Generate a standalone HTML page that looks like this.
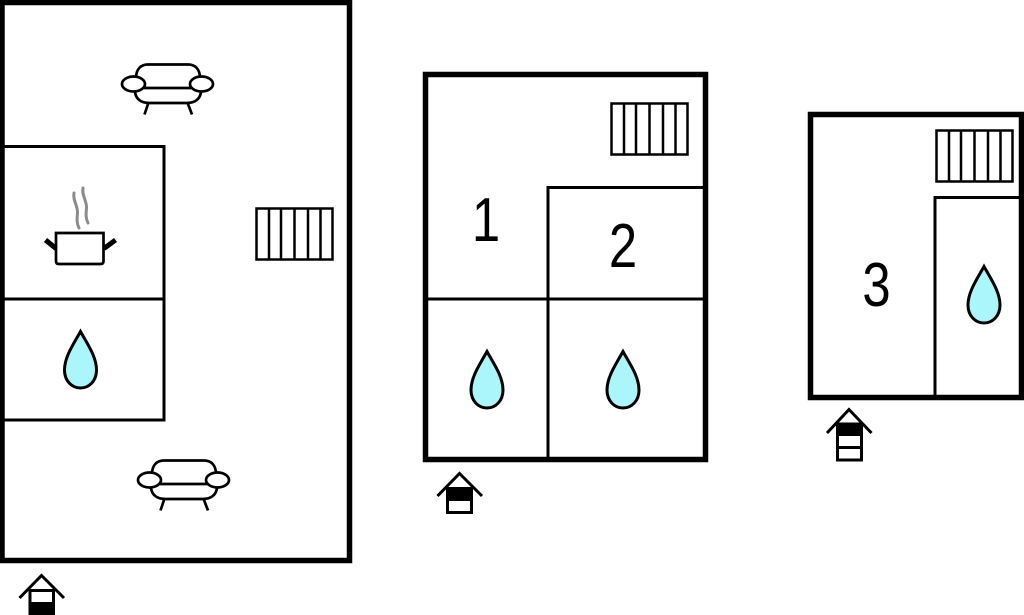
<!DOCTYPE html>
<html>
<head>
<meta charset="utf-8">
<style>
html,body{margin:0;padding:0;background:#fff;width:1024px;height:615px;overflow:hidden}
svg{display:block}
text{font-family:"Liberation Sans",sans-serif;font-size:62px;fill:#000;text-anchor:middle}
</style>
</head>
<body>
<svg width="1024" height="615" viewBox="0 0 1024 615" xmlns="http://www.w3.org/2000/svg" xmlns:xlink="http://www.w3.org/1999/xlink">
<defs>
  <g id="rad" fill="none" stroke="#000" stroke-width="2.500">
    <rect x="0.500" y="0.500" width="76" height="51" fill="#fff"/>
    <path d="M13 1V52M25 1V52M38.500 1V52M52 1V52M64.500 1V52"/>
  </g>
  <path id="drop" d="M80.500 331.500C73 345 64.500 357 64.500 370C64.500 381 72 388 80.500 388C89 388 96.500 381 96.500 370C96.500 357 88 345 80.500 331.500Z" fill="#aaf6fb" stroke="#000" stroke-width="3"/>
  <g id="sofa" fill="none" stroke="#000" stroke-width="2.700">
    <path d="M136 78C136 69 141 64.500 148 64.500H188C195 64.500 200 69 200 78"/>
    <path d="M144 88H191"/>
    <path d="M135 92C136 99 141 103 149 103H187C195 103 200 99 201 92"/>
    <path d="M148 104L144.500 114.500M188 104L192 114.500"/>
    <ellipse cx="133.500" cy="84" rx="11.500" ry="7.500" fill="#fff"/>
    <ellipse cx="201.500" cy="84" rx="11.500" ry="7.500" fill="#fff"/>
  </g>
</defs>

<!-- Left floor -->
<rect x="2" y="2.500" width="347.500" height="558" fill="#fff" stroke="#000" stroke-width="5.500"/>
<path d="M4 146.500H164V420H4M4 299H164" fill="none" stroke="#000" stroke-width="3"/>
<use xlink:href="#sofa"/>
<use xlink:href="#sofa" x="16" y="396"/>
<use xlink:href="#rad" x="256" y="208"/>
<use xlink:href="#drop"/>
<!-- Pot -->
<path d="M74 193C72.500 200 78 206 77.500 213C77 219 76.500 223 79 228M83 188C81.500 195 87 201 86.500 208C86 214 85.500 218 88 223" fill="none" stroke="#8c8c8c" stroke-width="3" stroke-linecap="round"/>
<path d="M56 233H103.500V261C103.500 263 102.500 264 100.500 264H59C57 264 56 263 56 261Z" fill="#fff" stroke="#000" stroke-width="2.700"/>
<path d="M45.500 240L56 248.500M115.500 240L104 248.500" fill="none" stroke="#000" stroke-width="5"/>
<!-- Left house icon -->
<rect x="30" y="590.500" width="23.500" height="30" fill="#fff" stroke="#000" stroke-width="3"/>
<rect x="29" y="602" width="25.500" height="13" fill="#000"/>
<path d="M19.500 598L41.500 575.500L64 598" fill="none" stroke="#000" stroke-width="3"/>

<!-- Middle floor -->
<rect x="425.500" y="74.500" width="280" height="385" fill="#fff" stroke="#000" stroke-width="5.500"/>
<path d="M427 299H705M548 458V187.500H705" fill="none" stroke="#000" stroke-width="3"/>
<use xlink:href="#rad" x="611" y="103"/>
<use xlink:href="#drop" x="406.500" y="20"/>
<use xlink:href="#drop" x="542.500" y="20"/>
<text transform="translate(486 241) scale(.82 1)">1</text>
<text transform="translate(623 267) scale(.82 1)">2</text>
<!-- Middle house icon -->
<rect x="447.500" y="488.500" width="24" height="24" fill="#fff" stroke="#000" stroke-width="3"/>
<rect x="446.500" y="488.500" width="26" height="12.500" fill="#000"/>
<path d="M437.500 496L459.500 473.500L482 496" fill="none" stroke="#000" stroke-width="3"/>

<!-- Right floor -->
<rect x="810.500" y="114.500" width="211" height="283" fill="#fff" stroke="#000" stroke-width="5.500"/>
<path d="M935 396V197.500H1020" fill="none" stroke="#000" stroke-width="3"/>
<use xlink:href="#rad" x="936" y="130"/>
<use xlink:href="#drop" x="903.500" y="-65"/>
<text transform="translate(876.500 306) scale(.82 1)">3</text>
<!-- Right house icon -->
<rect x="837.500" y="424" width="24" height="36" fill="#fff" stroke="#000" stroke-width="3"/>
<rect x="836.500" y="424" width="26" height="12" fill="#000"/>
<path d="M837 447.500H862" fill="none" stroke="#000" stroke-width="3"/>
<path d="M827 433L849 409.500L871.500 433" fill="none" stroke="#000" stroke-width="3"/>
</svg>
</body>
</html>
